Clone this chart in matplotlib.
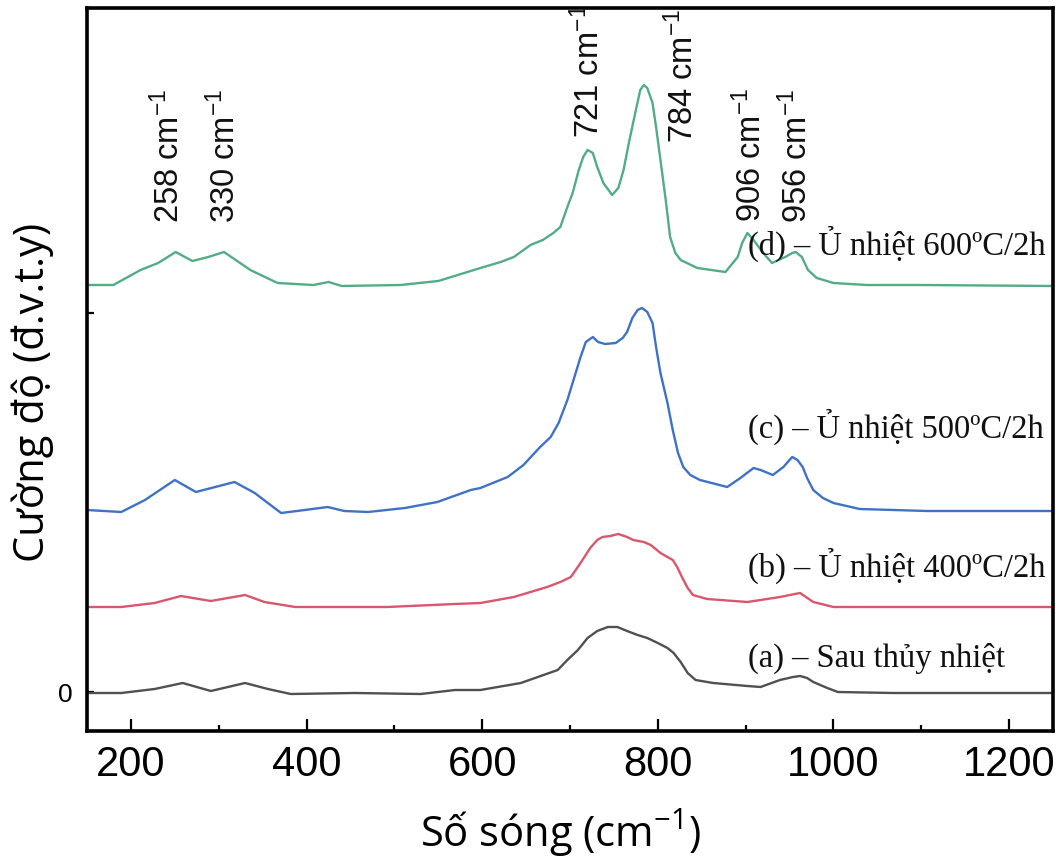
import matplotlib
matplotlib.use("Agg")
import matplotlib.pyplot as plt
from matplotlib.ticker import MultipleLocator

plt.rcParams['mathtext.default'] = 'regular'

# ---------------- data ----------------
# (d) annealed 600 C / 2h  (green)
wn_d = [150, 180, 211, 231, 251, 270, 288, 306, 336, 367,
        408, 425, 440, 507, 550, 598, 621, 636, 655, 669,
        681, 689, 693, 697, 703, 710, 715, 720, 726, 731,
        738, 748, 755, 761, 767, 775, 780, 784, 788, 794,
        798, 803, 809, 814, 820, 826, 845, 877, 891, 896,
        902, 909, 920, 930, 945, 953, 957, 964, 971, 981,
        1000, 1038, 1100, 1250]
int_d = [4.07, 4.07, 4.22, 4.29, 4.40, 4.31, 4.35, 4.40, 4.22, 4.09,
         4.07, 4.10, 4.06, 4.07, 4.11, 4.24, 4.30, 4.35, 4.47, 4.52,
         4.59, 4.65, 4.75, 4.85, 4.99, 5.22, 5.35, 5.42, 5.39, 5.25,
         5.09, 4.97, 5.04, 5.22, 5.49, 5.82, 6.02, 6.07, 6.04, 5.89,
         5.65, 5.32, 4.92, 4.55, 4.39, 4.32, 4.24, 4.20, 4.35, 4.49,
         4.59, 4.52, 4.39, 4.29, 4.35, 4.39, 4.40, 4.35, 4.22, 4.14,
         4.09, 4.07, 4.07, 4.06]

# (c) annealed 500 C / 2h  (blue)
wn_c = [150, 189, 216, 250, 274, 296, 318, 341, 371, 398,
        424, 443, 470, 512, 549, 587, 598, 629, 647, 666,
        678, 687, 697, 704, 712, 718, 726, 732, 740, 752,
        760, 765, 771, 777, 782, 788, 794, 798, 803, 811,
        817, 823, 829, 837, 848, 879, 894, 909, 917, 931,
        943, 953, 959, 965, 970, 977, 988, 1000, 1030, 1107,
        1250]
int_c = [1.82, 1.80, 1.92, 2.12, 2.00, 2.05, 2.10, 1.99, 1.79, 1.82,
         1.85, 1.81, 1.80, 1.84, 1.90, 2.02, 2.04, 2.15, 2.27, 2.45,
         2.55, 2.69, 2.92, 3.12, 3.35, 3.50, 3.55, 3.50, 3.48, 3.49,
         3.54, 3.60, 3.74, 3.82, 3.84, 3.80, 3.69, 3.45, 3.19, 2.89,
         2.62, 2.39, 2.25, 2.17, 2.12, 2.05, 2.14, 2.24, 2.22, 2.17,
         2.25, 2.35, 2.32, 2.25, 2.14, 2.02, 1.94, 1.89, 1.83, 1.81,
         1.81]

# (b) annealed 400 C / 2h  (red)
wn_b = [150, 189, 227, 257, 291, 330, 352, 387, 492, 569,
        598, 636, 674, 689, 701, 712, 723, 731, 737, 746,
        755, 765, 772, 784, 792, 803, 817, 822, 828, 834,
        840, 856, 902, 917, 939, 962, 977, 1000, 1068, 1250]
int_b = [0.85, 0.85, 0.89, 0.96, 0.91, 0.97, 0.90, 0.85, 0.85, 0.88,
         0.89, 0.95, 1.05, 1.10, 1.15, 1.29, 1.44, 1.52, 1.55, 1.56,
         1.58, 1.55, 1.52, 1.50, 1.47, 1.39, 1.32, 1.25, 1.14, 1.04,
         0.97, 0.93, 0.90, 0.92, 0.95, 0.99, 0.90, 0.85, 0.85, 0.85]

# (a) after hydrothermal  (gray)
wn_a = [150, 189, 227, 259, 291, 330, 356, 382, 455, 530,
        569, 598, 644, 686, 697, 709, 720, 731, 743, 754,
        765, 777, 788, 800, 811, 818, 826, 834, 843, 863,
        902, 917, 939, 954, 962, 970, 977, 993, 1005, 1068,
        1250]
int_a = [-0.01, -0.01, 0.03, 0.09, 0.01, 0.09, 0.03, -0.02, -0.01, -0.02,
         0.02, 0.02, 0.09, 0.22, 0.32, 0.42, 0.54, 0.61, 0.65, 0.65,
         0.61, 0.57, 0.54, 0.49, 0.44, 0.39, 0.30, 0.19, 0.12, 0.09,
         0.06, 0.05, 0.12, 0.15, 0.16, 0.14, 0.10, 0.04, 0.00, -0.01,
         -0.01]

series_labels = ["(a) – Sau thủy nhiệt", "(b) – Ủ nhiệt 400ºC/2h",
                 "(c) – Ủ nhiệt 500ºC/2h", "(d) – Ủ nhiệt 600ºC/2h"]
series_colors = ["#505050", "#d9576c", "#3f72c6", "#52ad86"]
label_y = [0.25, 1.15, 2.54, 4.37]

peak_labels = ["258 cm$^{-1}$", "330 cm$^{-1}$", "721 cm$^{-1}$",
               "784 cm$^{-1}$", "906 cm$^{-1}$", "956 cm$^{-1}$"]
peak_label_x = [243, 307, 721, 828, 906, 958]
peak_label_y = [4.69, 4.69, 5.54, 5.49, 4.70, 4.69]

x_ticks = [200, 400, 600, 800, 1000, 1200]
y_ticks = [0, 3.79]
y_ticklabels = ["0", ""]

# ---------------- figure ----------------
fig = plt.figure(figsize=(10.62, 8.58), dpi=100)
ax = fig.add_axes([87/1062, 1-731/858, (1053-87)/1062, (731-8)/858])

for wn, inten, col in zip([wn_a, wn_b, wn_c, wn_d], [int_a, int_b, int_c, int_d], series_colors):
    ax.plot(wn, inten, color=col, lw=1.7, solid_joinstyle='round')

ax.set_xlim(150, 1250)
ax.set_ylim(-0.39, 6.84)

ax.set_xticks(x_ticks)
ax.xaxis.set_minor_locator(MultipleLocator(100))
ax.set_yticks(y_ticks)
ax.set_yticklabels(y_ticklabels)

ax.tick_params(axis='x', which='major', direction='in', length=9, width=1.6,
               labelsize=30, pad=10)
ax.tick_params(axis='x', which='minor', direction='in', length=4, width=1.6)
ax.tick_params(axis='y', which='major', direction='in', length=5, width=1.6,
               labelsize=19, pad=10)
for lab in ax.get_xticklabels() + ax.get_yticklabels():
    lab.set_fontfamily('Liberation Sans')

for sp in ax.spines.values():
    sp.set_linewidth(2.6)

for txt, y in zip(series_labels, label_y):
    ax.text(903, y, txt, family='Liberation Serif', fontsize=23.5,
            ha='left', va='baseline', color='#111111')

for txt, x, y in zip(peak_labels, peak_label_x, peak_label_y):
    ax.text(x, y, txt, family='Liberation Sans', fontsize=23.5, rotation=90,
            ha='center', va='bottom', color='#111111')

fig.text(560/1062, 1-833/858, "Số sóng (cm$^{-1}$)", family='Open Sans', fontsize=30,
         ha='center', va='center')
fig.text(33/1062, 1-392/858, "Cường độ (đ.v.t.y)", family='Open Sans', fontsize=30,
         ha='center', va='center', rotation=90)

fig.savefig("out.png", dpi=100)
